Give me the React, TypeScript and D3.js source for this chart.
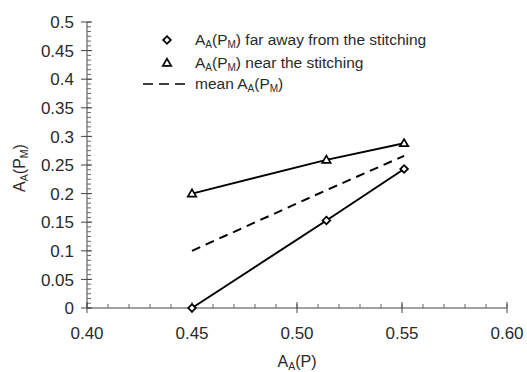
import React from "react";
import * as d3 from "d3";

const xValues = [0.45, 0.514, 0.551];
const farAway = [0.0, 0.153, 0.243];
const nearStitch = [0.2, 0.259, 0.288];
const meanVals = [0.1, 0.206, 0.266];
const yTicks = [0, 0.05, 0.1, 0.15, 0.2, 0.25, 0.3, 0.35, 0.4, 0.45, 0.5];
const xTicks = [0.4, 0.45, 0.5, 0.55, 0.6];

const W = 527, H = 372;
const left = 87, right = 507, top = 22, bottom = 308;
const TXT = "#2a2a2a";
const FONT = "Liberation Sans, Arial, sans-serif";

const x = d3.scaleLinear().domain([0.4, 0.6]).range([left, right]);
const y = d3.scaleLinear().domain([0, 0.5]).range([bottom, top]);

function Label({ main, sub1, mid, sub2, end, sub }: any) {
  return (
    <>
      <tspan>{main}</tspan>
      <tspan fontSize={sub} dy={3}>{sub1}</tspan>
      <tspan dy={-3}>{mid}</tspan>
      {sub2 ? <tspan fontSize={sub} dy={3}>{sub2}</tspan> : null}
      <tspan dy={sub2 ? -3 : 0}>{end}</tspan>
    </>
  );
}

function Diamond({ cx, cy }: any) {
  const r = 3.8;
  return (
    <path
      d={`M${cx},${cy - r}L${cx + r},${cy}L${cx},${cy + r}L${cx - r},${cy}Z`}
      fill="white"
      stroke="black"
      strokeWidth={1.8}
    />
  );
}
function Tri({ cx, cy }: any) {
  const r = 4.2;
  return (
    <path
      d={`M${cx},${cy - r}L${cx + r},${cy + r * 0.7}L${cx - r},${cy + r * 0.7}Z`}
      fill="white"
      stroke="black"
      strokeWidth={1.7}
    />
  );
}

export default function App() {
  const line = d3.line<number>().x((_, i) => x(xValues[i])).y((d) => y(d));
  const yMinor = d3.range(0, 0.5 + 1e-9, 0.05 / 6);
  const xMinor = d3.range(0.4, 0.6 + 1e-9, 0.01);
  return (
    <svg width={W} height={H} style={{ position: "absolute", left: 0, top: 0, background: "white" }} fontFamily={FONT}>
      <line x1={left} x2={left} y1={top} y2={bottom} stroke="#444" strokeWidth={1} />
      <line x1={left} x2={right} y1={bottom} y2={bottom} stroke="#444" strokeWidth={1} />
      {yMinor.map((v, i) => (
        <line key={"ym" + i} x1={left} x2={left + 4} y1={y(v)} y2={y(v)} stroke="#666" strokeWidth={1} />
      ))}
      {xMinor.map((v, i) => (
        <line key={"xm" + i} x1={x(v)} x2={x(v)} y1={bottom} y2={bottom - 4} stroke="#666" strokeWidth={1} />
      ))}
      {yTicks.map((v) => (
        <g key={"y" + v}>
          <line x1={left - 6} x2={left + 5} y1={y(v)} y2={y(v)} stroke="#444" />
          <text x={74} y={y(v)} dy="0.36em" textAnchor="end" fontSize={17} fill={TXT}>
            {String(v)}
          </text>
        </g>
      ))}
      {xTicks.map((v) => (
        <g key={"x" + v}>
          <line x1={x(v)} x2={x(v)} y1={bottom - 6} y2={bottom + 5} stroke="#444" />
          <text x={x(v)} y={339} textAnchor="middle" fontSize={17} fill={TXT}>
            {d3.format(".2f")(v)}
          </text>
        </g>
      ))}
      <text x={297} y={367} textAnchor="middle" fontSize={16} fill={TXT}>
        <Label main="A" sub1="A" mid="(P)" end="" sub={10.5} />
      </text>
      <text transform={`translate(25,168) rotate(-90)`} textAnchor="middle" fontSize={16} fill={TXT}>
        <Label main="A" sub1="A" mid="(P" sub2="M" end=")" sub={10.5} />
      </text>
      <path d={line(meanVals) || ""} fill="none" stroke="black" strokeWidth={2} strokeDasharray="9,6" />
      <path d={line(farAway) || ""} fill="none" stroke="black" strokeWidth={2} />
      <path d={line(nearStitch) || ""} fill="none" stroke="black" strokeWidth={2} />
      {farAway.map((v, i) => (
        <Diamond key={"d" + i} cx={x(xValues[i])} cy={y(v)} />
      ))}
      {nearStitch.map((v, i) => (
        <Tri key={"t" + i} cx={x(xValues[i])} cy={y(v)} />
      ))}
      <Diamond cx={167} cy={40} />
      <text x={195} y={45} fontSize={15.5} fill={TXT}>
        <Label main="A" sub1="A" mid="(P" sub2="M" end=") far away from the stitching" sub={10} />
      </text>
      <Tri cx={167} cy={63} />
      <text x={195} y={68} fontSize={15.5} fill={TXT}>
        <Label main="A" sub1="A" mid="(P" sub2="M" end=") near the stitching" sub={10} />
      </text>
      <line x1={143} x2={185} y1={84} y2={84} stroke="black" strokeWidth={1.6} strokeDasharray="10,6" />
      <text x={195} y={89} fontSize={15.5} fill={TXT}>
        <Label main="mean A" sub1="A" mid="(P" sub2="M" end=")" sub={10} />
      </text>
    </svg>
  );
}
